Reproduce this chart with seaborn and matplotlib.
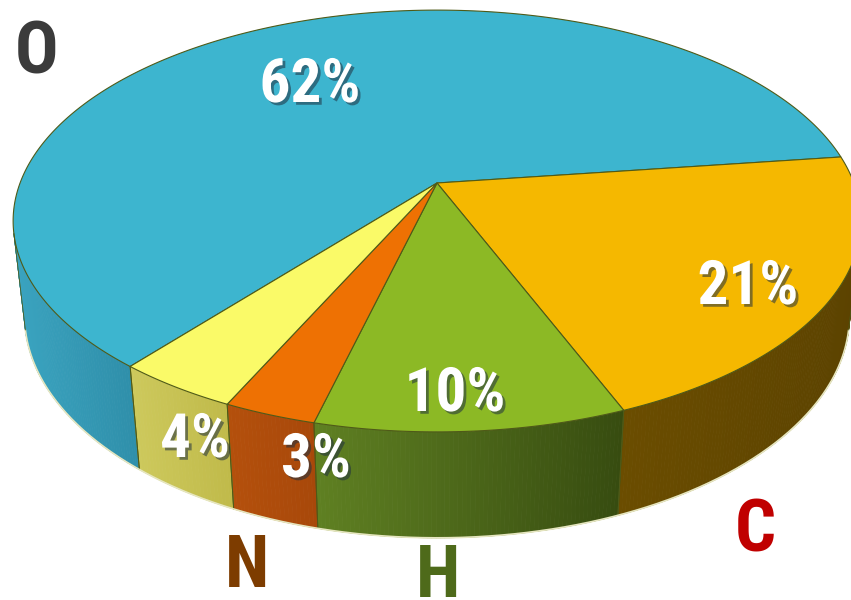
import numpy as np
import matplotlib
matplotlib.use("Agg")
import matplotlib.pyplot as plt
import matplotlib.patheffects as pe
from matplotlib.colors import to_rgb
import seaborn as sns

# ---------------- data ----------------
elements = ["O", "C", "H", "N", ""]
shares = [62, 21, 10, 3, 4]
pct_labels = ["62%", "21%", "10%", "3%", "4%"]

# ---------------- style ----------------
top_colors = ["#3db5cf", "#f5b800", "#8cb925", "#ee7103", "#fafa68"]
side_left = ["#3aa3bf", "#6b4d00", "#5f8022", "#b4500c", "#cdc95c"]
side_right = ["#2f8faa", "#5c4300", "#374c10", "#a8480a", "#c0ba4a"]
name_colors = ["#3b3b3b", "#c00000", "#4e6a1a", "#7d3c00", "#000000"]
edge_col = "#4f5a18"

sns.set_theme(style="white")
FONT = ["Roboto Condensed", "Archivo Narrow", "Barlow Condensed", "Liberation Sans", "DejaVu Sans"]
plt.rcParams["font.family"] = FONT

# ---------------- projection of a tilted cylinder ----------------
F, D, PHI, H = 2018.0, 4.84, np.radians(29.3), 0.265
CX, CY = 437.0, 183.0
cphi, sphi = np.cos(PHI), np.sin(PHI)


def proj(t_deg, z):
    t = np.radians(np.asarray(t_deg, dtype=float))
    z = np.asarray(z, dtype=float)
    x, y = np.cos(t), np.sin(t)
    depth = D + y * cphi - z * sphi
    return CX + F * x / depth, CY - F * (y * sphi + z * cphi) / depth


lim = np.degrees(np.arcsin(1.0 / (D * cphi)))
vis_lo, vis_hi = -180 + lim, -lim

fig = plt.figure(figsize=(8.51, 6.0), dpi=100)
ax = fig.add_axes([0, 0, 1, 1])
ax.set_xlim(0, 851)
ax.set_ylim(600, 0)
ax.axis("off")

# wedges run clockwise; O ends where C begins (at 7.5 deg)
cur = 7.5 + shares[0] * 3.6
bounds = []
for s in shares:
    bounds.append((cur, cur - s * 3.6))
    cur -= s * 3.6


def wrap(t):
    return (t + 180.0) % 360.0 - 180.0


# sides
for i, (t0, t1) in enumerate(bounds):
    # bring the wedge range into (-360, 360) windows overlapping the visible range
    for shift in (0.0, -360.0, 360.0):
        a, b = max(t1 + shift, vis_lo), min(t0 + shift, vis_hi)
        if a >= b:
            continue
        n = max(int((b - a) * 2), 4)
        ts = np.linspace(b, a, n + 1)
        cl, cr = np.array(to_rgb(side_left[i])), np.array(to_rgb(side_right[i]))
        x0, _ = proj(b, 0.0)
        x1, _ = proj(a, 0.0)
        for k in range(n):
            tt = np.array([ts[k], ts[k + 1]])
            xt, yt = proj(tt, 0.0)
            xb, yb = proj(tt, -H)
            px = [xt[0], xt[1], xb[1], xb[0]]
            py = [yt[0], yt[1], yb[1], yb[0]]
            xm = (xt[0] + xt[1]) / 2
            frac = np.clip((xm - x1) / (x0 - x1 + 1e-9), 0, 1)
            col = cl * (1 - frac) + cr * frac
            ax.fill(px, py, color=col, lw=0.6, ec=col, zorder=1)
    for tb in (t0, t1):
        tw = wrap(tb)
        if vis_lo < tw < vis_hi:
            xs, ys = proj([tw, tw], [0.0, -H])
            ax.plot(xs, ys, color=edge_col, lw=0.7, zorder=3)

# bottom rim and silhouettes
tb_all = np.linspace(vis_hi, vis_lo, 400)
xb, yb = proj(tb_all, -H)
ax.plot(xb, yb, color="#e6e6c0", lw=1.2, zorder=3)
for tv in (vis_lo, vis_hi):
    xs, ys = proj([tv, tv], [0.0, -H])
    ax.plot(xs, ys, color=edge_col, lw=0.6, zorder=3)

# tops
for i, (t0, t1) in enumerate(bounds):
    ts = np.linspace(t0, t1, max(int(abs(t0 - t1) * 2), 4))
    xr, yr = proj(ts, 0.0)
    px = np.concatenate([[CX], xr])
    py = np.concatenate([[CY], yr])
    ax.fill(px, py, color=top_colors[i], ec=edge_col, lw=0.8, zorder=2)

# percentage labels (x centre, baseline y)
pct_pos = [(310, 102), (748, 304), (455, 411), (316, 477), (195, 457)]
shadow = [pe.withSimplePatchShadow(offset=(2, -2), shadow_rgbFace="#203040", alpha=0.55)]
for lab, (x, y) in zip(pct_labels, pct_pos):
    ax.text(x, y, lab, color="white", fontsize=44, fontweight="bold",
            ha="center", va="baseline", zorder=5, path_effects=shadow)

# element names (x centre, baseline y)
name_pos = [(37, 74), (755, 551), (438, 597), (247, 587), None]
for el, col, pos in zip(elements, name_colors, name_pos):
    if not el:
        continue
    ax.text(pos[0], pos[1], el, color=col, fontsize=52, fontweight="bold",
            ha="center", va="baseline", zorder=5)

fig.savefig("out.png", dpi=100)
